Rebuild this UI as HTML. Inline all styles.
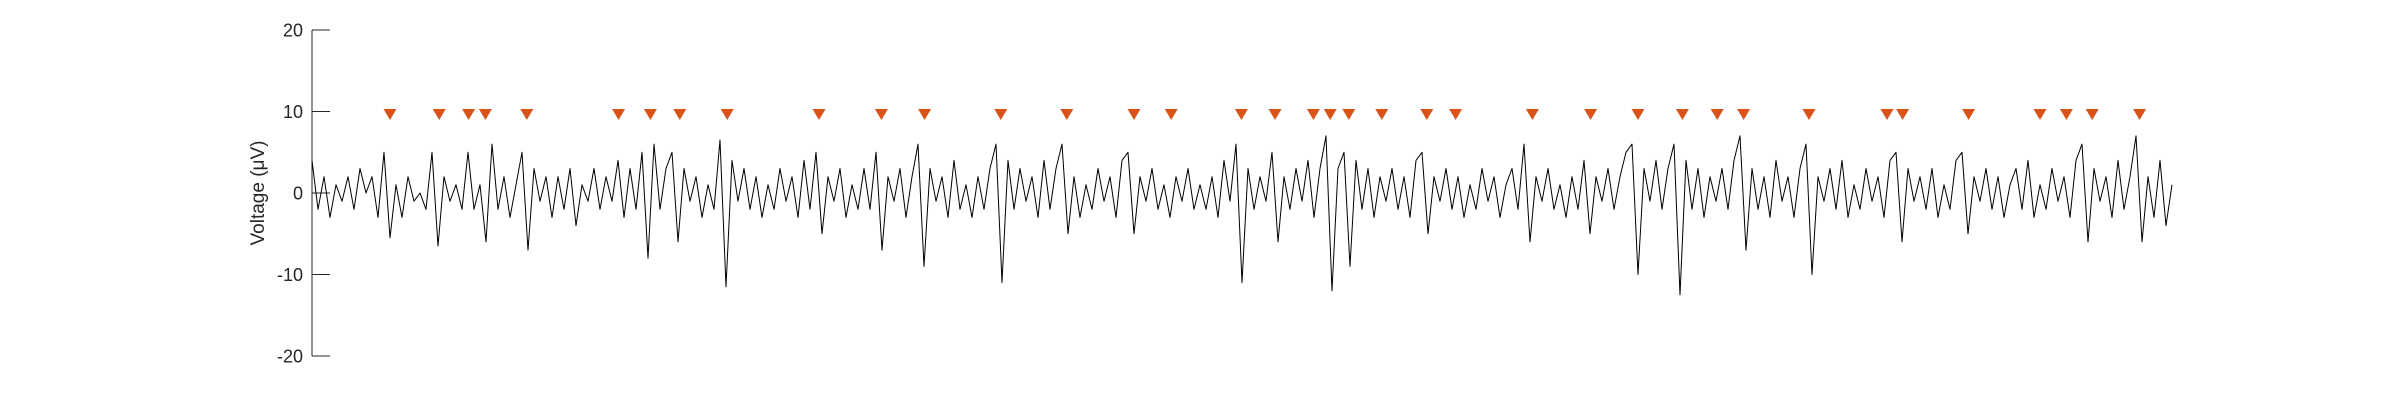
<!DOCTYPE html>
<html><head><meta charset="utf-8"><style>
html,body{margin:0;padding:0;background:#fff;}
svg{display:block;font-family:"Liberation Sans",Arial,sans-serif;}
</style></head><body>
<svg id="chart" width="2400" height="400" viewBox="0 0 2400 400" xmlns="http://www.w3.org/2000/svg">
<g id="axis"></g>
<text transform="translate(264,193) rotate(-90)" text-anchor="middle" font-size="19" fill="#262626">Voltage (μV)</text>
<g id="series"></g>
<g id="markers"></g>
</svg>
<script>
const yTicks = [20, 10, 0, -10, -20];
const yTickLabels = ["20", "10", "0", "-10", "-20"];
const signal = [
4,-2,2,-3,1,-1,2,-2,3,0,
2,-3,5,-5.5,1,-3,2,-1,0,-2,
5,-6.5,2,-1,1,-2,5,-2,1,-6,
6,-2,2,-3,1,5,-7,3,-1,2,
-3,2,-2,3,-4,1,-1,3,-2,2,
-1,4,-3,3,-2,5,-8,6,-2,3,
5,-6,3,-1,2,-3,1,-2,6.5,-11.5,
4,-1,3,-2,2,-3,1,-2,3,-1,
2,-3,4,-2,5,-5,2,-1,3,-3,
1,-2,3,-2,5,-7,2,-1,3,-3,
2,6,-9,3,-1,2,-3,4,-2,1,
-3,2,-2,3,6,-11,4,-2,3,-1,
2,-3,4,-2,3,6,-5,2,-3,1,
-2,3,-1,2,-3,4,5,-5,2,-1,
3,-2,1,-3,2,-1,3,-2,1,-2,
2,-3,4,-1,6,-11,3,-2,2,-1,
5,-6,2,-2,3,-1,4,-3,3,7,
-12,3,5,-9,4,-2,3,-3,2,-1,
3,-2,2,-3,4,5,-5,2,-1,3,
-2,2,-3,1,-2,3,-1,2,-3,1,
3,-2,6,-6,2,-1,3,-2,1,-3,
2,-2,4,-5,2,-1,3,-2,2,5,
6,-10,3,-1,4,-2,3,6,-12.5,4,
-2,3,-3,2,-1,3,-2,4,7,-7,
3,-2,2,-3,4,-1,2,-3,3,6,
-10,2,-1,3,-2,4,-3,1,-2,3,
-1,2,-3,4,5,-6,3,-1,2,-2,
3,-3,1,-2,4,5,-5,2,-1,3,
-2,2,-3,1,3,-2,4,-3,1,-2,
3,-1,2,-3,4,6,-6,3,-1,2,
-3,4,-2,2,7,-6,2,-3,4,-4,1
];
const markerIdx = [13.0,21.2,26.1,28.9,35.8,51.1,56.4,61.3,69.2,84.5,94.9,102.1,114.8,125.8,137.0,143.2,154.9,160.5,166.9,169.7,172.8,178.3,185.8,190.6,203.4,213.1,221.0,228.4,234.2,238.6,249.5,262.5,265.1,276.1,288.0,292.4,296.7,304.6];
const markerLevel = 10;

const NS = "http://www.w3.org/2000/svg";
const x0 = 312, x1 = 2172;
const yTop = 30, yBot = 356, vMax = 20, vMin = -20;
function yScale(v){ return yTop + (vMax - v) / (vMax - vMin) * (yBot - yTop); }
function xScale(i){ return x0 + i * (x1 - x0) / (signal.length - 1); }

const axis = document.getElementById('axis');
const line = document.createElementNS(NS,'line');


line.setAttribute('x1', x0); line.setAttribute('x2', x0);
line.setAttribute('y1', yScale(vMax)); line.setAttribute('y2', yScale(vMin));
line.setAttribute('stroke', '#262626'); line.setAttribute('stroke-width', '1');
axis.appendChild(line);
yTicks.forEach((t, i) => {
  const y = yScale(t);
  const tk = document.createElementNS(NS,'line');
  
  
  tk.setAttribute('x1', x0); tk.setAttribute('x2', x0 + 18);
  tk.setAttribute('y1', y); tk.setAttribute('y2', y);
  tk.setAttribute('stroke', '#262626'); tk.setAttribute('stroke-width', '1');
  axis.appendChild(tk);
  const tx = document.createElementNS(NS,'text');
  
  
  tx.setAttribute('x', 303); tx.setAttribute('y', y + 6.5);
  tx.setAttribute('text-anchor', 'end'); tx.setAttribute('font-size', '18');
  tx.setAttribute('fill', '#262626');
  tx.textContent = yTickLabels[i];
  axis.appendChild(tx);
});

const series = document.getElementById('series');
const path = document.createElementNS(NS,'path');


path.setAttribute('d', signal.map((v, i) => (i ? 'L' : 'M') + xScale(i).toFixed(1) + ',' + yScale(v).toFixed(1)).join(''));
path.setAttribute('fill', 'none'); path.setAttribute('stroke', '#000'); path.setAttribute('stroke-width', '1');
path.setAttribute('stroke-linejoin', 'round');
series.appendChild(path);

const markers = document.getElementById('markers');
markerIdx.forEach(k => {
  const cx = xScale(k);
  const cy = yScale(markerLevel) + 3;
  const tri = document.createElementNS(NS,'polygon');
  
  
  tri.setAttribute('points', (cx-6.5)+','+(cy-5.5)+' '+(cx+6.5)+','+(cy-5.5)+' '+cx+','+(cy+5.5));
  tri.setAttribute('fill', '#D95319');
  markers.appendChild(tri);
});
</script>
</body></html>
